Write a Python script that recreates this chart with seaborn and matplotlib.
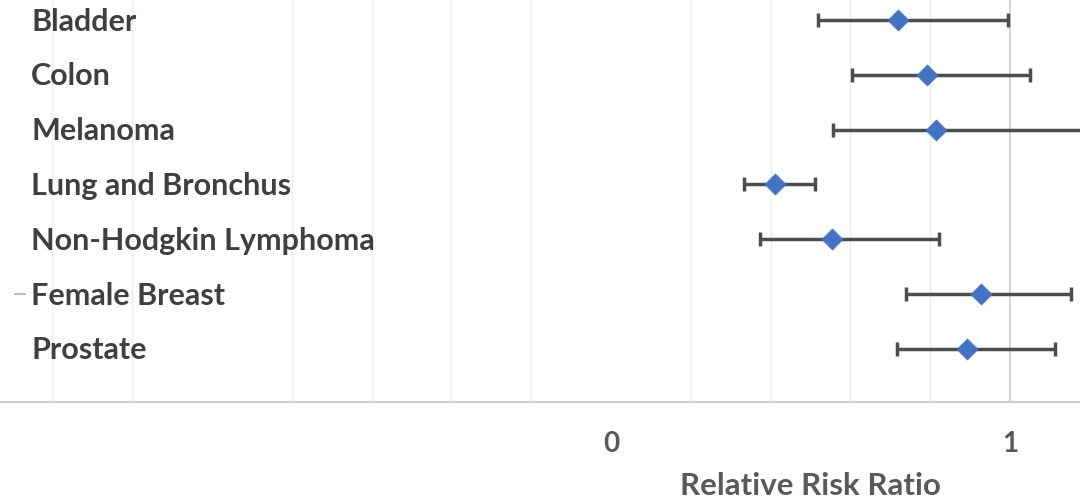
import matplotlib
matplotlib.use("Agg")
import matplotlib.pyplot as plt
import seaborn as sns
import numpy as np
import pandas as pd

# ---- data ----
cancers = ["Bladder", "Colon", "Melanoma", "Lung and Bronchus",
           "Non-Hodgkin Lymphoma", "Female Breast", "Prostate"]
rr = [0.719, 0.792, 0.815, 0.412, 0.554, 0.927, 0.892]
ci_low = [0.518, 0.603, 0.556, 0.333, 0.374, 0.740, 0.717]
ci_high = [0.995, 1.050, 1.300, 0.512, 0.822, 1.154, 1.114]
tick_values = [0, 1]
tick_labels = ["0", "1"]
x_label = "Relative Risk Ratio"

df = pd.DataFrame({"cancer": cancers, "rr": rr, "lo": ci_low, "hi": ci_high})
df["row"] = np.arange(len(df))

sns.set_theme(style="white")
plt.rcParams["font.family"] = ["Lato", "DejaVu Sans"]

W, H = 1080, 499
fig = plt.figure(figsize=(W / 100, H / 100), dpi=100)
ax_bottom_px = 401.7
ax = fig.add_axes([0, (H - ax_bottom_px) / H, 1, ax_bottom_px / H])

x0_px, x1_px = 611.0, 1010.0
unit = x1_px - x0_px
ax.set_xlim(-x0_px / unit, (W - x0_px) / unit)
row_px0, row_step = 20.0, 54.8
ax.set_ylim((ax_bottom_px - row_px0) / row_step, -row_px0 / row_step)

# gridlines (minor at 0.2, none at -1 and 0), reference line at 1
grid_x = [g for g in np.round(np.arange(-1.4, 1.0, 0.2), 1) if g not in (-1.0, 0.0)]
for g in grid_x:
    ax.axvline(g, color="#ececec", lw=1.0, zorder=0)
ax.axvline(1.0, color="#d4d4d4", lw=1.4, zorder=0)

# error bars
ax.errorbar(df["rr"], df["row"],
            xerr=[df["rr"] - df["lo"], df["hi"] - df["rr"]],
            fmt="none", ecolor="#4d4d4d", elinewidth=2.5,
            capsize=5, capthick=2.5, zorder=2)
sns.scatterplot(data=df, x="rr", y="row", marker="D", s=115,
                color="#4472C4", edgecolor="#4472C4", linewidth=0.5,
                ax=ax, zorder=3, legend=False)

# category labels inside plot
for _, r in df.iterrows():
    ax.text(31 / W, r["row"] + 0.03, r["cancer"], transform=ax.get_yaxis_transform(),
            ha="left", va="center", fontsize=22, fontweight="bold", color="#3f3f3f")

# small tick mark near Female Breast
fb = cancers.index("Female Breast")
ax.hlines(fb, 14 / W, 26 / W, transform=ax.get_yaxis_transform(),
          color="#b0b0b0", lw=1.2)

for s in ["top", "left", "right"]:
    ax.spines[s].set_visible(False)
ax.spines["bottom"].set_color("#d0d0d0")
ax.spines["bottom"].set_linewidth(1.5)

ax.set_yticks([])
ax.set_xticks(tick_values)
ax.set_xticklabels(tick_labels, fontsize=20, fontweight="bold", color="#595959")
ax.tick_params(axis="x", length=0, pad=21)
ax.set_xlabel("")
ax.set_ylabel("")
ax.grid(False)

ax.text(810 / W, -(495 - ax_bottom_px) / ax_bottom_px, x_label,
        transform=ax.transAxes, ha="center", va="baseline",
        fontsize=22.5, fontweight="bold", color="#595959", clip_on=False)

fig.savefig("out.png", dpi=100)
